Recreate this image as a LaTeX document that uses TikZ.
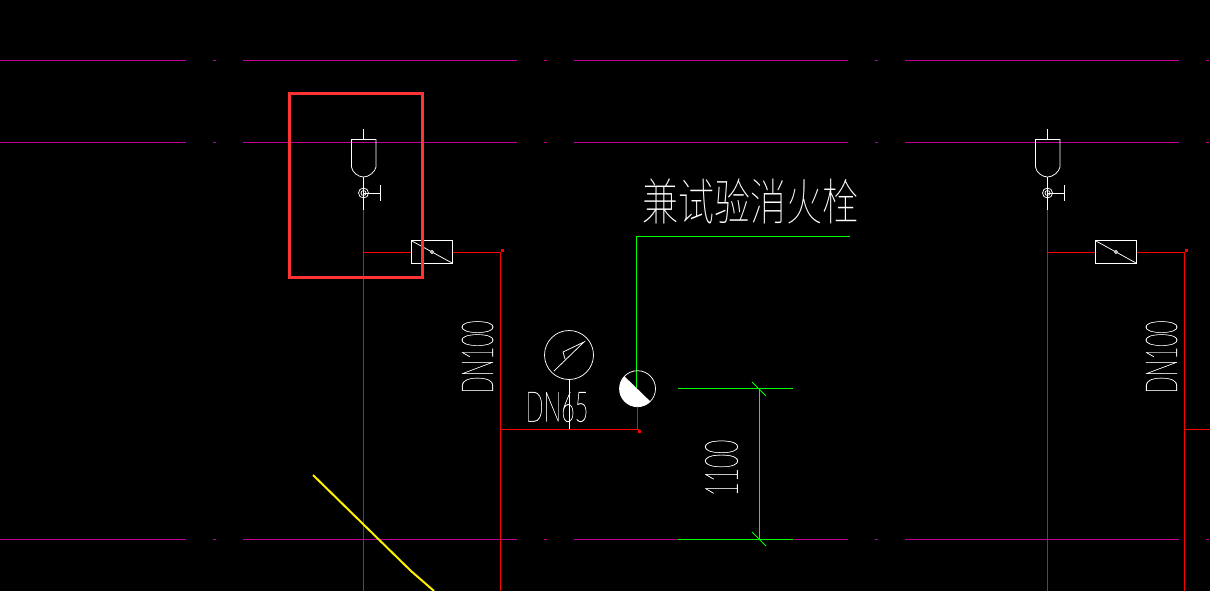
\documentclass[tikz,border=0pt]{standalone}
\usepackage{fontspec}
\newfontfamily\cjk{Noto Sans CJK SC Thin}
\newfontfamily\cadlat[FakeBold=0.8]{Lato Hairline}
\definecolor{cadmag}{RGB}{190,0,150}
\definecolor{cadred}{RGB}{255,0,0}
\definecolor{cadgreen}{RGB}{0,255,0}
\definecolor{boxred}{RGB}{255,51,51}
\tikzset{x=1pt,y=-1pt,
  pipemag/.style={draw=cadmag,line width=.75pt},
  pipered/.style={draw=cadred,line width=.75pt},
  dimgreen/.style={draw=cadgreen,line width=.75pt},
  sym/.style={draw=white,line width=.75pt},
  cadtext/.style={text=white,inner sep=0pt},
  dot/.style={fill=cadred,draw=none,minimum size=3pt,inner sep=0pt}}
\begin{document}
\begin{tikzpicture}
\useasboundingbox[fill=black] (0,0) rectangle (1210,591);
% magenta lines
\foreach \y in {60,142}{
 \foreach \a/\b in {0/186,213/216,243/517,544/547,574/848,875/878,905/1179,1206/1209}
  \draw[pipemag] (\a,\y) -- (\b,\y);
}
\foreach \a/\b in {0/186,213/216,243/517,544/547,574/678,793/848,875/878,905/1179,1206/1209}
  \draw[pipemag] (\a,539) -- (\b,539);
% red pipes
\foreach \ox in {0,684}{
 \begin{scope}[shift={(\ox,0)}]
  \draw[pipered] (363.5,210) -- (363.5,591);
  \draw[pipered] (363.5,252.5) -- (411,252.5);
  \draw[pipered] (453,252.5) -- (500.5,252.5) -- (500.5,591);
  \node[dot] (d\ox) at (502,250) {};
  \draw[sym] (363.5,129) -- (363.5,139);
  \draw[sym] (351.5,139.5) -- (376,139.5) -- (376,167) .. controls (375,172) and (369,177) .. (363.5,177) .. controls (358,177) and (352,172) .. (351.5,167) -- cycle;
  \draw[sym] (363.5,177) -- (363.5,210);
  \draw[sym,fill=black] (363.5,193) circle (5);
  \draw[sym] (363.5,193) circle (2.5);
  \draw[sym] (363.5,188) -- (363.5,198) (363.5,193) -- (380,193) (380,185) -- (380,201);
  \draw[sym] (411.5,240.5) rectangle (452.5,263.5);
  \draw[sym] (412,241) -- (452,263);
  \draw[sym,fill=black] (432,252) circle (1.5);
  \node[cadtext,rotate=90,xscale=.51,font=\cadlat\fontsize{44}{44}\selectfont] (dn\ox) at (477.5,357) {DN100};
 \end{scope}
}
\draw[pipered] (500.5,429.5) -- (639,429.5);
\draw[pipered] (1184.5,429.5) -- (1210,429.5);
\draw[pipered] (637.5,405) -- (637.5,429.5);
\node[dot] at (639,431.5) {};
% red highlight
\draw[boxred,line width=3pt] (289.5,93.5) rectangle (422.5,277.5);
% yellow
\draw[yellow,line width=2pt] (313,475) -- (411,571) -- (434,591);
% gauge
\draw[sym] (569,355) circle (24.5);
\draw[sym] (554,371) -- (584,342) -- (563,352) -- (565,359);
\draw[sym] (569,380) -- (569,429);
\node[cadtext,xscale=.56,font=\cadlat\fontsize{42}{42}\selectfont] (dn65) at (557,407) {DN65};
% hydrant
\draw[dimgreen] (850,236.5) -- (636.5,236.5) -- (636.5,388);
\begin{scope}
\clip (637.5,388.7) circle (18);
\fill[white] (620,372) -- (656,407) -- (620,420) -- cycle;
\end{scope}
\draw[sym] (637.5,388.7) circle (18);
% dimension
\draw[dimgreen] (678,388.5) -- (793,388.5);
\draw[dimgreen] (678,539.5) -- (793,539.5);
\draw[dimgreen] (759.5,388.5) -- (759.5,539.5);
\draw[dimgreen] (752,382) -- (766,396);
\draw[dimgreen] (752,532) -- (766,546);
\node[cadtext,rotate=90,xscale=.53,font=\cadlat\fontsize{46}{46}\selectfont] (dim) at (721.5,468) {1100};
% title
\node[cadtext,xscale=.72,font=\cjk\fontsize{50}{50}\selectfont] (title) at (750.5,201) {兼试验消火栓};
\end{tikzpicture}
\end{document}
